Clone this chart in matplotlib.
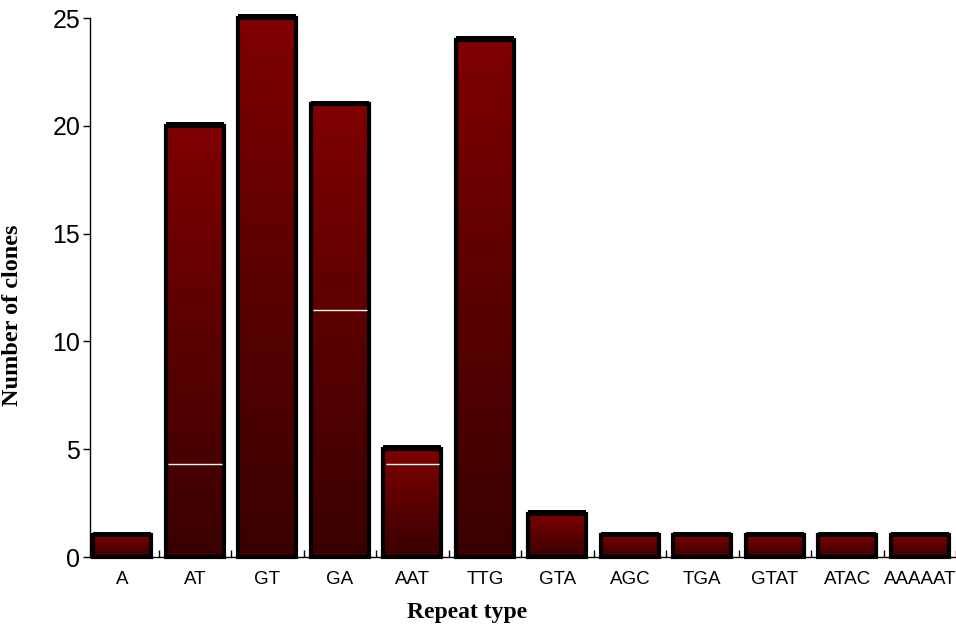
import numpy as np
import matplotlib
matplotlib.use('Agg')
import matplotlib.pyplot as plt
from matplotlib.colors import LinearSegmentedColormap

# data
repeat_types = ["A", "AT", "GT", "GA", "AAT", "TTG", "GTA", "AGC", "TGA", "GTAT", "ATAC", "AAAAAT"]
clones = [1, 20, 25, 21, 5, 24, 2, 1, 1, 1, 1, 1]
# thin white streaks visible inside some bars (bar index, height)
streak_bars = [1, 3, 4]
streak_levels = [4.3, 11.45, 4.3]

fig = plt.figure(figsize=(9.56, 6.27), dpi=100)
ax = fig.add_axes([0.094, 0.1116, 0.906, 0.8594])

cmap = LinearSegmentedColormap.from_list("redfade", ["#3a0000", "#5a0000", "#800000"])
grad = np.linspace(0, 1, 256).reshape(-1, 1)
width = 0.8
x = np.arange(len(repeat_types))

for xi, v in zip(x, clones):
    bar = ax.bar(xi, v, width=width, color="none", edgecolor="black",
                 linewidth=3, zorder=3, clip_on=False)[0]
    im = ax.imshow(grad, cmap=cmap, aspect="auto", origin="lower",
                   extent=(xi - width / 2, xi + width / 2, 0, v), zorder=2)
    im.set_clip_path(bar)
    # heavier top edge
    ax.bar(xi, 0.22, bottom=v - 0.04, width=width, color="black",
           linewidth=0, zorder=4, clip_on=False)

for b, lvl in zip(streak_bars, streak_levels):
    ax.hlines(lvl, b - width / 2 + 0.03, b + width / 2 - 0.03,
              colors="white", linewidth=1, zorder=3)

ax.set_xlim(-0.45, 11.5)
ax.set_ylim(0, 25)
ax.set_yticks([0, 5, 10, 15, 20, 25])
ax.set_xticks(x)
ax.set_xticklabels(repeat_types, fontsize=13.5, family="Liberation Sans")
ax.set_xticks(np.arange(0.5, 12, 1), minor=True)
ax.tick_params(axis="x", which="major", length=0, pad=10)
ax.tick_params(axis="x", which="minor", direction="in", length=5, width=1)
ax.tick_params(axis="y", direction="out", length=5, width=1, labelsize=18, pad=2)
for lab in ax.get_yticklabels():
    lab.set_family("Liberation Sans")

for s in ["top", "right"]:
    ax.spines[s].set_visible(False)
ax.spines["left"].set_linewidth(1)
ax.spines["bottom"].set_linewidth(1)

ax.set_xlabel("Repeat type", fontsize=17, fontweight="bold",
              family="Liberation Serif")
ax.set_ylabel("Number of clones", fontsize=17.5, fontweight="bold",
              family="Liberation Serif")
ax.xaxis.set_label_coords(0.435, -0.083)
ax.yaxis.set_label_coords(-0.077, 0.448)

fig.savefig("out.png", dpi=100)
